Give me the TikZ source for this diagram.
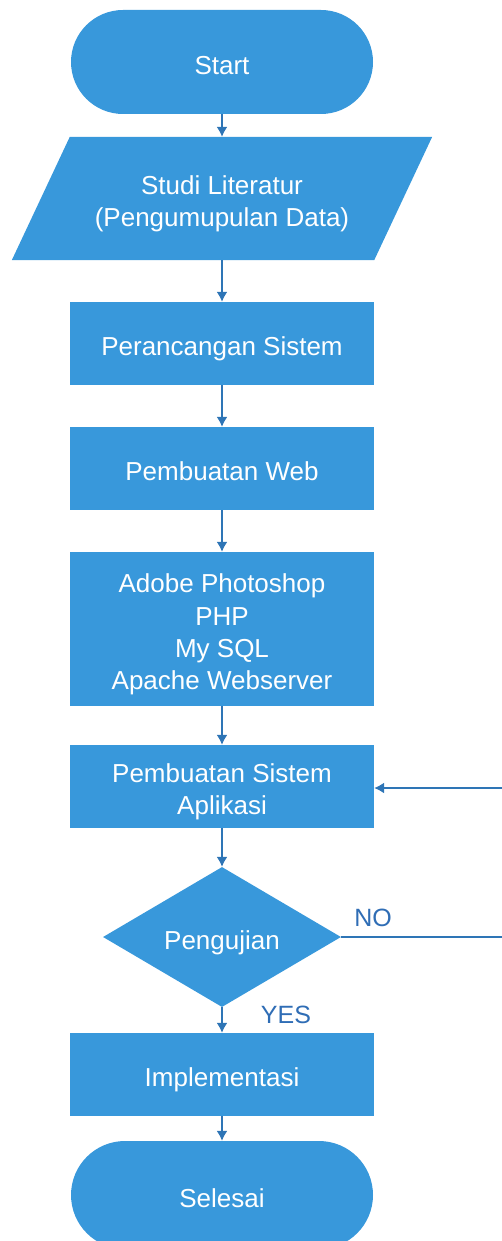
\documentclass[tikz,border=0pt]{standalone}
\usepackage{fontspec}
\setmainfont{Liberation Sans}
\usetikzlibrary{shapes.geometric,arrows.meta,backgrounds}
\definecolor{boxblue}{HTML}{3898DB}
\definecolor{linkblue}{HTML}{2E75B6}
\definecolor{labelblue}{HTML}{2F6DB5}
% line struts: the first one is taller so that text sits a little below the middle
\newcommand{\ls}{\rule[-6pt]{0pt}{24.6pt}}
\newcommand{\fs}{\rule[-6pt]{0pt}{36.6pt}}
\begin{document}
\begin{tikzpicture}[x=1pt,y=-1pt,
  base/.style={text=white, font=\fontsize{26}{32}\selectfont, align=center, inner sep=0pt},
  proc/.style={base, fill=boxblue, minimum width=304pt, minimum height=83pt},
  term/.style={base, fill=boxblue, rounded corners=52pt, minimum width=302pt, minimum height=104pt},
  decision/.style={base, fill=boxblue, diamond, shape aspect=1.7, minimum width=238pt, minimum height=140pt},
  flow/.style={draw=linkblue, line width=1.6pt, -{Latex[length=10pt,width=11pt]}},
  lbl/.style={text=labelblue, font=\fontsize{25}{30}\selectfont, inner sep=0pt}]
\useasboundingbox (0,0) rectangle (502,1241);
\clip (0,0) rectangle (502,1241);

% flow steps
\node[term] (start) at (222,62) {\fs Start};
\node[base, minimum width=420pt, minimum height=123pt] (lit) at (222,198.5)
  {\fs Studi Literatur\\\ls(Pengumupulan Data)};
\begin{scope}[on background layer]
  \fill[boxblue] ([xshift=58pt]lit.north west) -- (lit.north east)
    -- ([xshift=-58pt]lit.south east) -- (lit.south west) -- cycle;
\end{scope}
\node[proc] (design) at (222,343.5) {\fs Perancangan Sistem};
\node[proc] (web) at (222,468.5) {\fs Pembuatan Web};
\node[proc, minimum height=154pt, font=\fontsize{26}{32.3}\selectfont] (tools) at (222,629)
  {\fs Adobe Photoshop\\\ls PHP\\\ls My SQL\\\ls Apache Webserver};
\node[proc] (app) at (222,786.5) {\fs Pembuatan Sistem\\\ls Aplikasi};
\node[decision] (test) at (222,937) {\fs Pengujian};
\node[proc] (impl) at (222,1074.5) {\fs Implementasi};
\node[term, minimum height=108pt, rounded corners=54pt] (end) at (222,1195) {\fs Selesai};

% connectors
\draw[flow] (start) -- (lit);
\draw[flow] (lit) -- (design);
\draw[flow] (design) -- (web);
\draw[flow] (web) -- (tools);
\draw[flow] (tools) -- (app);
\draw[flow] (app) -- (test);
\draw[flow] (test) -- (impl);
\draw[flow] (impl) -- (end);

% loop back when the test fails
\coordinate (loopB) at (505,937);
\coordinate (loopT) at (505,788);
\draw[flow] (test.east) -- (loopB) -- (loopT) -- (loopT -| app.east);

% branch labels
\node[lbl] (no) at (373,918) {NO};
\node[lbl] (yes) at (286,1015) {YES};
\end{tikzpicture}
\end{document}
